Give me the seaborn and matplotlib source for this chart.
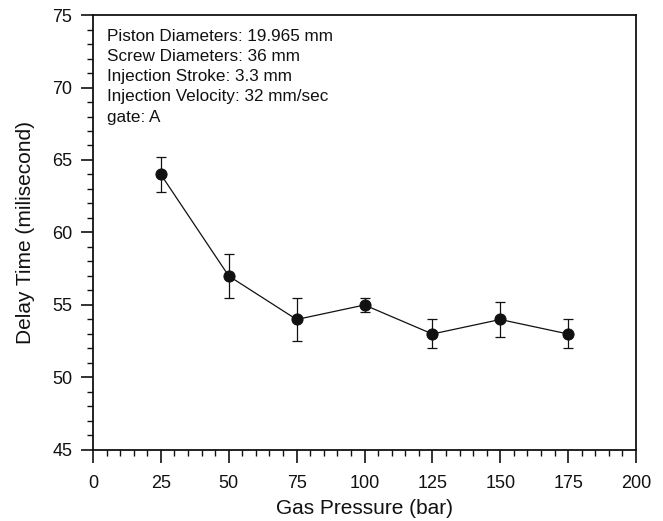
import matplotlib
matplotlib.use("Agg")
import matplotlib.pyplot as plt
import seaborn as sns
import pandas as pd
from matplotlib.ticker import MultipleLocator

pressure = [25, 50, 75, 100, 125, 150, 175]
delay = [64.0, 57.0, 54.0, 55.0, 53.0, 54.0, 53.0]
err = [1.2, 1.5, 1.5, 0.5, 1.0, 1.2, 1.0]
x_ticks = [0, 25, 50, 75, 100, 125, 150, 175, 200]
y_ticks = [45, 50, 55, 60, 65, 70, 75]
info_lines = [
    "Piston Diameters: 19.965 mm",
    "Screw Diameters: 36 mm",
    "Injection Stroke: 3.3 mm",
    "Injection Velocity: 32 mm/sec",
    "gate: A",
]

sns.set_theme(style="ticks")
plt.rcParams["font.family"] = ["Liberation Sans", "DejaVu Sans"]

df = pd.DataFrame({"pressure": pressure, "delay": delay, "err": err})

fig = plt.figure(figsize=(6.63, 5.21), dpi=100)
ax = fig.add_axes([0.1403, 0.1363, 0.8190, 0.8349])

ax.errorbar(df["pressure"], df["delay"], yerr=df["err"], fmt="none",
            ecolor="#111111", elinewidth=0.9, capsize=3.8, capthick=0.9, zorder=2)
sns.lineplot(data=df, x="pressure", y="delay", ax=ax, color="#111111",
             linewidth=0.9, marker="o", markersize=8, markeredgecolor="#111111",
             markerfacecolor="#111111", zorder=3)

ax.set_xlim(0, 200)
ax.set_ylim(45, 75)
ax.set_xticks(x_ticks)
ax.set_yticks(y_ticks)
ax.xaxis.set_minor_locator(MultipleLocator(5))
ax.yaxis.set_minor_locator(MultipleLocator(1))
ax.tick_params(axis="both", which="major", direction="out", length=9, width=1.2,
               labelsize=13, colors="#111111")
ax.tick_params(axis="x", which="major", pad=9)
ax.tick_params(axis="y", which="major", pad=6)
ax.tick_params(axis="both", which="minor", direction="out", length=4.5, width=1.0,
               colors="#111111")
for s in ax.spines.values():
    s.set_visible(True)
    s.set_linewidth(1.3)
    s.set_color("#111111")

ax.set_xlabel("Gas Pressure (bar)", fontsize=15, color="#111111", labelpad=5)
ax.set_ylabel("Delay Time (milisecond)", fontsize=15, color="#111111", labelpad=12)

ax.text(0.026, 0.967, "\n".join(info_lines), transform=ax.transAxes,
        ha="left", va="top", fontsize=12.3, color="#111111", linespacing=1.42)

fig.savefig("out.png", dpi=100)
